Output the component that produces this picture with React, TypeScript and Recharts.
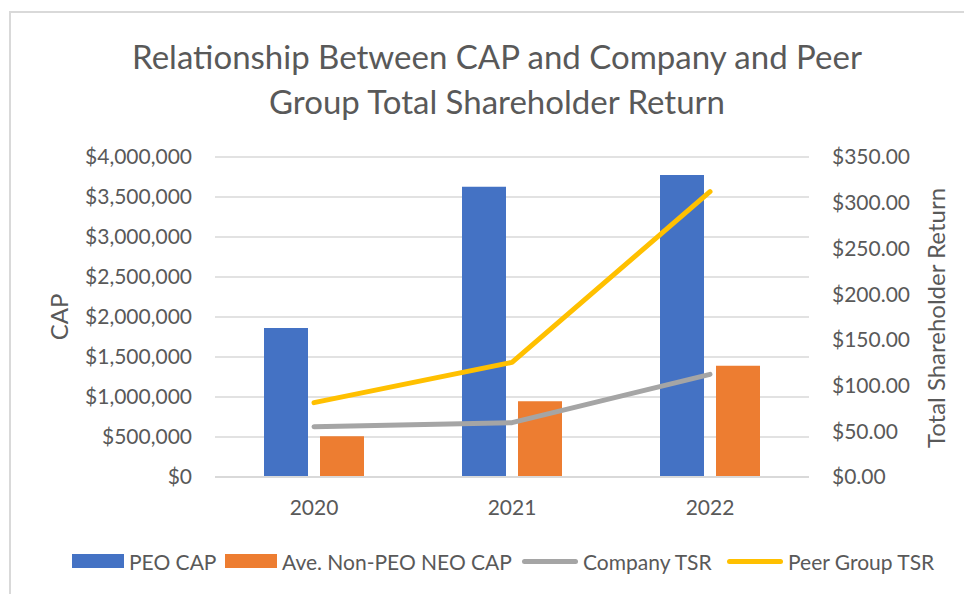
import React from 'react';
import { ComposedChart, Bar, Line, XAxis, YAxis, CartesianGrid } from 'recharts';

const years = ['2020', '2021', '2022'];
const peoCap = [1862000, 3628000, 3775000];
const nonPeoCap = [508000, 946000, 1390000];
const companyTsr = [55.0, 59.4, 112.3];
const peerTsr = [81.3, 125.4, 312.1];
const capTicks = [0, 500000, 1000000, 1500000, 2000000, 2500000, 3000000, 3500000, 4000000];
const tsrTicks = [0, 50, 100, 150, 200, 250, 300, 350];

const data = years.map((year, i) => ({
  year,
  peoCap: peoCap[i],
  nonPeoCap: nonPeoCap[i],
  companyTsr: companyTsr[i],
  peerTsr: peerTsr[i],
}));

const TEXT = '#595959';
const GRID = '#D9D9D9';
const FONT = 'Lato, "Open Sans", sans-serif';

const fmtCap = (v: number) => '$' + v.toLocaleString('en-US');
const fmtTsr = (v: number) => '$' + v.toFixed(2);

const legendItems = [
  { label: 'PEO CAP', color: '#4472C4', type: 'rect', left: 64 },
  { label: 'Ave. Non-PEO NEO CAP', color: '#ED7D31', type: 'rect', left: 217 },
  { label: 'Company TSR', color: '#A5A5A5', type: 'line', left: 514 },
  { label: 'Peer Group TSR', color: '#FFC000', type: 'line', left: 719 },
];

const App: React.FC = () => {
  const tick = { fill: TEXT, fontSize: 21, fontFamily: FONT };
  return (
    <div style={{ position: 'relative', width: 964, height: 586, overflow: 'hidden', fontFamily: FONT, background: '#fff' }}>
      <div style={{ position: 'absolute', left: 1, top: 3, width: 2000, height: 2000, border: `2px solid ${GRID}` }} />
      <div
        style={{
          position: 'absolute', left: 0, top: 26, width: 978, textAlign: 'center',
          fontSize: 33, lineHeight: '45px', color: TEXT,
        }}
      >
        Relationship Between CAP and Company and Peer
        <br />
        Group Total Shareholder Return
      </div>
      <ComposedChart
        width={964}
        height={586}
        data={data}
        margin={{ top: 149, right: 0, left: 0, bottom: 77 }}
        barGap={12}
        style={{ position: 'absolute', left: 0, top: 0 }}
      >
        <CartesianGrid yAxisId="cap" vertical={false} stroke={GRID} strokeWidth={1.5} />
        <XAxis
          dataKey="year"
          axisLine={{ stroke: GRID, strokeWidth: 2 }}
          tickLine={false}
          tickSize={0}
          tickMargin={23}
          height={40}
          tick={tick}
        />
        <YAxis
          yAxisId="cap"
          orientation="left"
          width={207}
          domain={[0, 4000000]}
          ticks={capTicks}
          tickFormatter={fmtCap}
          axisLine={false}
          tickLine={false}
          tickSize={0}
          tickMargin={23}
          tick={tick}
        />
        <YAxis
          yAxisId="tsr"
          orientation="right"
          width={163}
          domain={[0, 350]}
          ticks={tsrTicks}
          tickFormatter={fmtTsr}
          axisLine={false}
          tickLine={false}
          tickSize={0}
          tickMargin={23}
          tick={{ ...tick, textAnchor: 'start' }}
        />
        <Bar yAxisId="cap" dataKey="peoCap" fill="#4472C4" barSize={44} isAnimationActive={false} />
        <Bar yAxisId="cap" dataKey="nonPeoCap" fill="#ED7D31" barSize={44} isAnimationActive={false} />
        <Line
          yAxisId="tsr"
          dataKey="companyTsr"
          stroke="#A5A5A5"
          strokeWidth={5}
          strokeLinecap="round"
          strokeLinejoin="round"
          dot={false}
          activeDot={false}
          isAnimationActive={false}
        />
        <Line
          yAxisId="tsr"
          dataKey="peerTsr"
          stroke="#FFC000"
          strokeWidth={5}
          strokeLinecap="round"
          strokeLinejoin="round"
          dot={false}
          activeDot={false}
          isAnimationActive={false}
        />
      </ComposedChart>
      <div
        style={{
          position: 'absolute', left: 50, top: 309, transform: 'translate(-50%, -50%) rotate(-90deg)',
          fontSize: 24, color: TEXT, whiteSpace: 'nowrap',
        }}
      >
        CAP
      </div>
      <div
        style={{
          position: 'absolute', left: 927, top: 310, transform: 'translate(-50%, -50%) rotate(-90deg)',
          fontSize: 24, color: TEXT, whiteSpace: 'nowrap',
        }}
      >
        Total Shareholder Return
      </div>
      {legendItems.map((item) => (
        <div
          key={item.label}
          style={{
            position: 'absolute', left: item.left, top: 538, height: 30,
            display: 'flex', alignItems: 'center', whiteSpace: 'nowrap',
          }}
        >
          {item.type === 'rect' ? (
            <div style={{ width: 52, height: 14, background: item.color }} />
          ) : (
            <div style={{ width: 56, height: 5, borderRadius: 3, background: item.color }} />
          )}
          <span style={{ marginLeft: 5, fontSize: 21, color: TEXT }}>{item.label}</span>
        </div>
      ))}
    </div>
  );
};

export default App;
